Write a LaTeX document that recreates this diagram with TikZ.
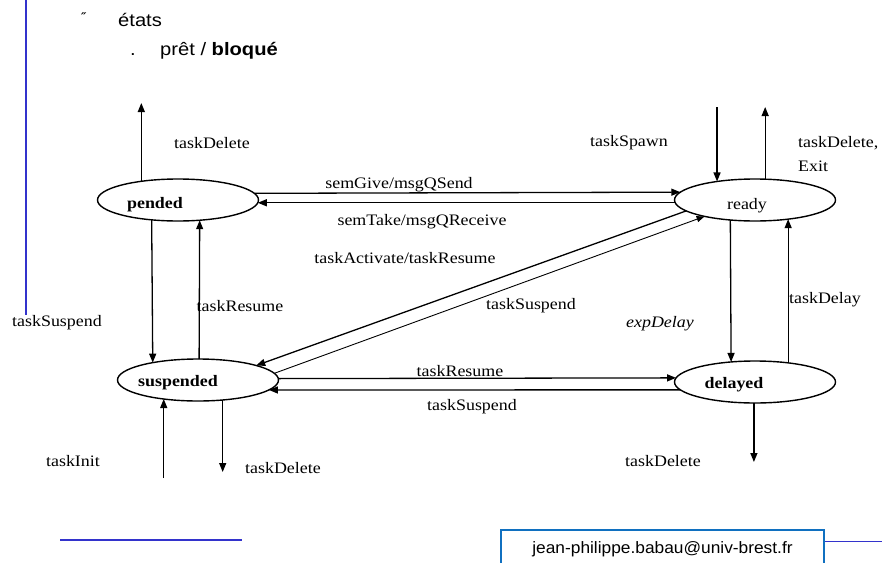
\documentclass[tikz,border=0pt]{standalone}
\usepackage{fontspec}
\usetikzlibrary{arrows.meta,shapes.geometric}
\newfontfamily\serifw{Liberation Serif}[FakeStretch=1.12]
\newfontfamily\sansw{Liberation Sans}[FakeStretch=1.12]
\newfontfamily\sansm{Liberation Sans}[FakeStretch=1.05]
\newfontfamily\symf{DejaVu Sans}
\definecolor{slideblue}{RGB}{51,51,204}
\definecolor{boxblue}{RGB}{16,112,192}

\begin{document}
\begin{tikzpicture}[x=1pt,y=-1pt,
  state/.style={draw, ellipse, line width=1.4pt, minimum width=161pt,
    minimum height=42pt, inner sep=0pt, outer sep=0pt},
  stname/.style={font=\serifw\bfseries\fontsize{16}{19}\selectfont, inner sep=0pt},
  lbl/.style={font=\serifw\fontsize{16}{19}\selectfont, inner sep=0pt},
  ilbl/.style={font=\serifw\itshape\fontsize{16}{19}\selectfont, inner sep=0pt},
  ttl/.style={font=\sansw\fontsize{18}{22}\selectfont, inner sep=0pt, anchor=base west},
  tr/.style={line width=1.3pt, -{Triangle[length=9pt,width=7pt]}},
  trthin/.style={line width=0.9pt, -{Triangle[length=8pt,width=6pt]}},
]
\useasboundingbox (0,0) rectangle (882,562);

% slide decorations
\draw[slideblue, line width=2pt] (26,0) -- (26,315);
\draw[slideblue, line width=1.5pt] (60,540) -- (242,540);

% header
\node[font=\symf\itshape\bfseries\fontsize{12}{14}\selectfont, inner sep=0pt, anchor=base west] (mk1) at (81,21) {″};
\node[ttl] (etats) at (118,26) {états};
\node[ttl] (mk2) at (130,55) {.};
\node[ttl] (pret) at (160,55) {prêt / \textbf{bloqué}};

% states
\node[state] (pended) at (178,200) {};
\node[state] (ready) at (755,200) {};
\node[state] (suspended) at (198,380) {};
\node[state] (delayed) at (755,382) {};
\node[stname] (pendedtxt) at (155,205) {pended};
\node[lbl] (readytxt) at (747,206) {ready};
\node[stname] (suspendedtxt) at (178,383) {suspended};
\node[stname] (delayedtxt) at (734,385) {delayed};

% free ends of entry / exit transitions
\coordinate (pdDel) at (141,103);
\coordinate (rdSpawn) at (717,107);
\coordinate (rdDel) at (765,107);
\coordinate (spInit) at (164,478);
\coordinate (spDel) at (222,472);
\coordinate (dlDel) at (754,462);

% pended
\draw[tr] (pended.153.25) -- (pended.153.25 |- pdDel);
\node[lbl] (lpdDel) at (212,143) {taskDelete};

% ready
\draw[tr] (ready.154.03 |- rdSpawn) -- (ready.154.03);
\draw[tr] (ready.64.37) -- (ready.64.37 |- rdDel);
\node[lbl] (lSpawn) at (629,143) {taskSpawn};
\node[lbl, anchor=west] (lrdDel) at (798,143) {taskDelete,};
\node[lbl, anchor=west] (lExit) at (798,166) {Exit};

% pended <-> ready
\draw[tr] (pended.5.27) -- (ready.174.73);
\draw[tr] (ready.182.9) -- (pended.-2.9);
\node[lbl] (lGive) at (399,185) {semGive/msgQSend};
\node[lbl] (lTake) at (422,222) {semTake/msgQReceive};

% ready <-> suspended
\draw[tr] (ready.189.33) -- (suspended.14);
\draw[trthin] (suspended.5.6) -- (ready.198.78);
\node[lbl] (lAct) at (405,258) {taskActivate/taskResume};
\node[lbl] (lSuspD) at (531,306) {taskSuspend};

% pended <-> suspended
\draw[tr] (pended.217.38) -- (suspended.159.47);
\draw[tr] (suspended.87.27) -- (pended.-43.99);
\node[lbl] (lResV) at (240,306) {taskResume};
\node[lbl] (lSuspL) at (57,323) {taskSuspend};

% suspended entry / exit
\draw[tr] (suspended.209.24 |- spInit) -- (suspended.209.24);
\draw[tr] (suspended.-39.86) -- (suspended.-39.86 |- spDel);
\node[lbl] (lInit) at (73,461) {taskInit};
\node[lbl] (lspDel) at (283,468) {taskDelete};

% suspended <-> delayed
\draw[tr] (suspended.1.43) -- (delayed.177.1);
\draw[tr] (delayed.186.14) -- (suspended.-8.04);
\node[lbl] (lResB) at (460,371) {taskResume};
\node[lbl] (lSuspB) at (472,407) {taskSuspend};

% ready <-> delayed
\draw[tr] (ready.219.86) -- (delayed.140.14);
\draw[tr] (delayed.30.12) -- (ready.-30.12);
\node[ilbl] (lExp) at (660,324) {expDelay};
\node[lbl] (lDelay) at (825,300) {taskDelay};

% delayed exit
\draw[tr] (delayed.267.27) -- (delayed.267.27 |- dlDel);
\node[lbl] (ldlDel) at (663,461) {taskDelete};

% footer
\node[draw=boxblue, line width=2pt, minimum width=323pt, minimum height=38pt,
  inner sep=0pt, anchor=north west, font=\sansm\fontsize{16.5}{20}\selectfont] (mail) at (500,529)
  {jean-philippe.babau@univ-brest.fr};
\coordinate (rEnd) at (882,541);
\draw[slideblue, line width=1pt] (rEnd -| mail.east) -- (rEnd);
\end{tikzpicture}
\end{document}
